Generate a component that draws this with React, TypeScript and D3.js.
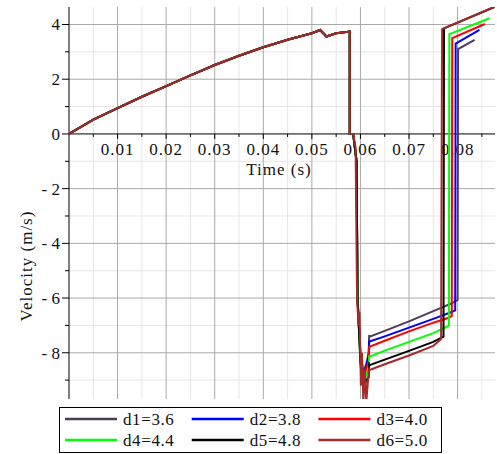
import React from 'react';
import * as d3 from 'd3';

// shared rising part (all six runs overlap here)
const riseT = [0, 0.005, 0.01, 0.015, 0.02, 0.025, 0.03, 0.035, 0.04, 0.045, 0.05, 0.0517, 0.053, 0.055, 0.0578, 0.0578, 0.0585];
const riseV = [0, 0.52, 0.94, 1.36, 1.75, 2.14, 2.52, 2.86, 3.17, 3.44, 3.68, 3.8, 3.56, 3.68, 3.74, 0, 0];

// per-run tails [time, velocity]
const tail1 = [[0.0592, -1], [0.0594, -6], [0.06, -8.0], [0.0606, -8.7], [0.0612, -8.4], [0.0617, -8.0], [0.0618, -7.35], [0.0619, -7.41], [0.065, -7.2], [0.07, -6.85], [0.075, -6.48], [0.0787, -6.2], [0.08, -6.07], [0.0801, 3.1], [0.0835, 3.44]];
const tail2 = [[0.0592, -1], [0.0594, -6], [0.06, -8.1], [0.0606, -8.9], [0.0612, -8.5], [0.0617, -8.1], [0.0618, -7.55], [0.0619, -7.59], [0.065, -7.4], [0.07, -7.08], [0.075, -6.76], [0.0789, -6.5], [0.0795, -6.45], [0.0796, 3.3], [0.0845, 3.8]];
const tail3 = [[0.0592, -1], [0.0594, -6], [0.06, -8.2], [0.0606, -9.0], [0.0612, -8.6], [0.0617, -8.3], [0.0618, -7.74], [0.0619, -7.78], [0.065, -7.56], [0.07, -7.22], [0.075, -6.9], [0.0782, -6.72], [0.0788, -6.65], [0.0789, 3.5], [0.0856, 4.02]];
const tail4 = [[0.0592, -1], [0.0594, -6], [0.06, -8.3], [0.0606, -9.1], [0.0612, -8.8], [0.0617, -8.6], [0.0618, -8.1], [0.0619, -8.14], [0.065, -7.92], [0.07, -7.6], [0.075, -7.28], [0.0778, -7.05], [0.0782, -7.0], [0.0783, 3.65], [0.0866, 4.23]];
const tail5 = [[0.0592, -1], [0.0594, -6], [0.06, -8.4], [0.0606, -9.3], [0.0612, -9.0], [0.0617, -8.9], [0.0618, -8.42], [0.0619, -8.45], [0.065, -8.25], [0.07, -7.93], [0.075, -7.6], [0.0771, -7.41], [0.0772, 3.86], [0.0876, 4.64]];
const tail6 = [[0.059, -0.5], [0.0593, -6], [0.0596, -7.0], [0.0598, -6.5], [0.0601, -9.2], [0.0603, -8.0], [0.0606, -9.8], [0.0609, -8.6], [0.0612, -9.8], [0.0616, -8.9], [0.0618, -8.6], [0.0619, -8.63], [0.065, -8.42], [0.07, -8.1], [0.075, -7.75], [0.0766, -7.5], [0.0768, 3.83], [0.0876, 4.65]];

const names = ['d1=3.6', 'd2=3.8', 'd3=4.0', 'd4=4.4', 'd5=4.8', 'd6=5.0'];
const colors = ['#4f3a5c', '#0000ff', '#ff0000', '#00ff00', '#000000', '#a52a2a'];
const tails = [tail1, tail2, tail3, tail4, tail5, tail6];

const xMajor = [0.01, 0.02, 0.03, 0.04, 0.05, 0.06, 0.07, 0.08];
const xMinor = [0.005, 0.015, 0.025, 0.035, 0.045, 0.055, 0.065, 0.075, 0.085];
const yMajor = [4, 2, 0, -2, -4, -6, -8];
const yMinor = [3, 1, -1, -3, -5, -7, -9];

const W = 497;
const H = 454;
const font = "'Liberation Serif', 'Times New Roman', serif";

export default function App() {
  const x = d3.scaleLinear().domain([0, 0.0877]).range([69, 495]);
  const y = d3.scaleLinear().domain([-9.69, 4.64]).range([399, 7]);
  const line = d3.line<number[]>().x(d => x(d[0])).y(d => y(d[1]));

  const rise = riseT.map((t, i) => [t, riseV[i]]);
  const series = tails.map(t => rise.concat(t));

  const [x0, x1] = x.range();
  const [y0, y1] = y.range();

  return (
    <svg width={W} height={H} style={{ position: 'absolute', left: 0, top: 0, background: '#fff', fontFamily: font }}>
      <defs>
        <clipPath id="plot">
          <rect x={x0} y={y1} width={x1 - x0} height={y0 - y1} />
        </clipPath>
      </defs>
      {xMinor.map(v => <line key={'xm' + v} x1={x(v)} x2={x(v)} y1={y1} y2={y0} stroke="#e6e6e6" />)}
      {yMinor.map(v => <line key={'ym' + v} x1={x0} x2={x1} y1={y(v)} y2={y(v)} stroke="#e6e6e6" />)}
      {xMajor.map(v => <line key={'xM' + v} x1={x(v)} x2={x(v)} y1={y1} y2={y0} stroke="#a9a9a9" />)}
      {yMajor.filter(v => v !== 0).map(v => <line key={'yM' + v} x1={x0} x2={x1} y1={y(v)} y2={y(v)} stroke="#a9a9a9" />)}

      {/* axes */}
      <line x1={x0} x2={x0} y1={y1} y2={y0} stroke="#000" />
      <line x1={x0} x2={x1} y1={y(0)} y2={y(0)} stroke="#000" />
      {yMajor.map(v => <line key={'yt' + v} x1={x0 - 7} x2={x0} y1={y(v)} y2={y(v)} stroke="#000" />)}
      {yMinor.map(v => <line key={'ytm' + v} x1={x0 - 4} x2={x0} y1={y(v)} y2={y(v)} stroke="#000" />)}
      {xMajor.map(v => <line key={'xt' + v} x1={x(v)} x2={x(v)} y1={y(0)} y2={y(0) + 5} stroke="#000" />)}
      {xMinor.map(v => <line key={'xtm' + v} x1={x(v)} x2={x(v)} y1={y(0)} y2={y(0) + 3} stroke="#000" />)}

      {yMajor.map(v => (
        <text key={'yl' + v} x={x0 - 9} y={y(v)} dy="0.35em" textAnchor="end" fontSize={17} fill="#111">
          {v < 0 ? '- ' + Math.abs(v) : String(v)}
        </text>
      ))}
      {xMajor.map(v => (
        <text key={'xl' + v} x={x(v)} y={y(0) + 21} textAnchor="middle" fontSize={17} letterSpacing={1} fill="#111">
          {d3.format('.2f')(v)}
        </text>
      ))}
      <text x={279} y={175} textAnchor="middle" fontSize={17} letterSpacing={1} fill="#111">Time (s)</text>
      <text transform={`translate(32,266) rotate(-90)`} textAnchor="middle" fontSize={17} letterSpacing={1} fill="#111">
        Velocity (m/s)
      </text>

      <g clipPath="url(#plot)">
        {series.map((s, i) => (
          <path key={names[i]} d={line(s) || ''} fill="none" stroke={colors[i]} strokeWidth={2} strokeLinejoin="miter" />
        ))}
      </g>

      {/* legend */}
      <rect x={59.5} y={407.5} width={382} height={45} fill="#fff" stroke="#000" />
      {names.map((n, i) => {
        const col = i % 3;
        const row = Math.floor(i / 3);
        const lx = 65 + col * 126.7;
        const ly = 419 + row * 21;
        return (
          <g key={'lg' + n}>
            <line x1={lx} x2={lx + 52} y1={ly} y2={ly} stroke={colors[i]} strokeWidth={2.5} />
            <text x={lx + 58} y={ly} dy="0.35em" fontSize={17} letterSpacing={0.6} fill="#111">{n}</text>
          </g>
        );
      })}
    </svg>
  );
}
